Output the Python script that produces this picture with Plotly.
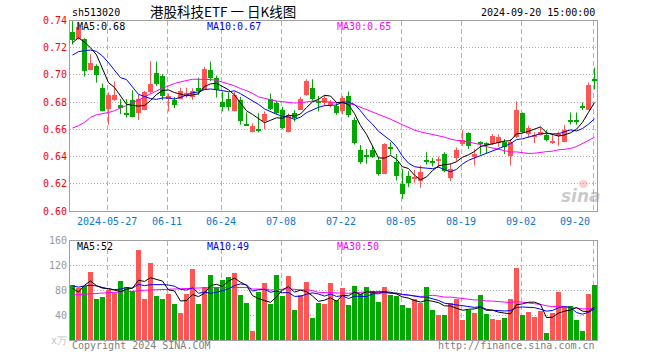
import plotly.graph_objects as go
import pandas as pd

# ---------------- data ----------------
holidays = ["2024-06-10", "2024-09-16", "2024-09-17"]
dates = [d.strftime("%Y-%m-%d") for d in pd.bdate_range("2024-05-17", "2024-09-20")
         if d.strftime("%Y-%m-%d") not in holidays]

opens = [0.7317, 0.7268, 0.7268, 0.7041, 0.7066, 0.6907, 0.6756, 0.6822, 0.6780, 0.6717,
         0.6822, 0.6724, 0.6749, 0.6878, 0.7017, 0.6993, 0.6827, 0.6822, 0.6829, 0.6846,
         0.6839, 0.6907, 0.6895, 0.7041, 0.6980, 0.6805, 0.6827, 0.6737, 0.6822, 0.6634,
         0.6585, 0.6607, 0.6668, 0.6827, 0.6798, 0.6749, 0.6585, 0.6724, 0.6749, 0.6854,
         0.6907, 0.6805, 0.6798, 0.6780, 0.6773, 0.6741, 0.6846, 0.6676, 0.6451, 0.6407,
         0.6451, 0.6376, 0.6278, 0.6473, 0.6366, 0.6205, 0.6261, 0.6237, 0.6224, 0.6371,
         0.6366, 0.6371, 0.6419, 0.6244, 0.6390, 0.6493, 0.6578, 0.6400, 0.6502, 0.6500,
         0.6498, 0.6505, 0.6512, 0.6407, 0.6546, 0.6724, 0.6566, 0.6546, 0.6561, 0.6561,
         0.6507, 0.6561, 0.6512, 0.6668, 0.6668, 0.6773, 0.6749, 0.6968]
highs = [0.7395, 0.7370, 0.7270, 0.7151, 0.7078, 0.6937, 0.6871, 0.6951, 0.6822, 0.6822,
         0.6888, 0.6854, 0.6883, 0.7102, 0.7098, 0.7005, 0.6863, 0.6839, 0.6907, 0.6907,
         0.6902, 0.6980, 0.7059, 0.7098, 0.6995, 0.6878, 0.6871, 0.6878, 0.6839, 0.6724,
         0.6644, 0.6720, 0.6732, 0.6863, 0.6810, 0.6766, 0.6717, 0.6741, 0.6839, 0.6968,
         0.6968, 0.6846, 0.6854, 0.6815, 0.6798, 0.6846, 0.6878, 0.6688, 0.6485, 0.6456,
         0.6480, 0.6395, 0.6498, 0.6505, 0.6419, 0.6310, 0.6293, 0.6302, 0.6334, 0.6432,
         0.6390, 0.6400, 0.6432, 0.6351, 0.6468, 0.6595, 0.6578, 0.6456, 0.6512, 0.6505,
         0.6566, 0.6563, 0.6529, 0.6529, 0.6805, 0.6724, 0.6627, 0.6578, 0.6615, 0.6595,
         0.6561, 0.6585, 0.6634, 0.6724, 0.6724, 0.6798, 0.6944, 0.7054]
lows = [0.7224, 0.7260, 0.6988, 0.7034, 0.6944, 0.6732, 0.6634, 0.6810, 0.6712, 0.6688,
        0.6688, 0.6668, 0.6741, 0.6863, 0.6920, 0.6815, 0.6732, 0.6756, 0.6822, 0.6834,
        0.6815, 0.6854, 0.6888, 0.6956, 0.6834, 0.6732, 0.6737, 0.6732, 0.6634, 0.6627,
        0.6578, 0.6578, 0.6602, 0.6741, 0.6712, 0.6602, 0.6578, 0.6659, 0.6741, 0.6846,
        0.6810, 0.6732, 0.6773, 0.6761, 0.6707, 0.6712, 0.6688, 0.6488, 0.6346, 0.6346,
        0.6390, 0.6261, 0.6273, 0.6415, 0.6224, 0.6090, 0.6176, 0.6205, 0.6171, 0.6341,
        0.6327, 0.6322, 0.6285, 0.6220, 0.6366, 0.6480, 0.6456, 0.6334, 0.6415, 0.6424,
        0.6485, 0.6473, 0.6419, 0.6334, 0.6537, 0.6571, 0.6541, 0.6498, 0.6554, 0.6512,
        0.6493, 0.6480, 0.6505, 0.6634, 0.6634, 0.6741, 0.6741, 0.6895]
closes = [0.7261, 0.7359, 0.7029, 0.7090, 0.7000, 0.6741, 0.6854, 0.6854, 0.6761, 0.6712,
          0.6698, 0.6829, 0.6878, 0.6937, 0.6937, 0.6846, 0.6851, 0.6780, 0.6883, 0.6871,
          0.6883, 0.6888, 0.7049, 0.6980, 0.6895, 0.6766, 0.6766, 0.6854, 0.6668, 0.6629,
          0.6632, 0.6598, 0.6717, 0.6756, 0.6724, 0.6615, 0.6707, 0.6688, 0.6829, 0.6961,
          0.6827, 0.6798, 0.6834, 0.6805, 0.6724, 0.6834, 0.6712, 0.6505, 0.6366, 0.6402,
          0.6400, 0.6278, 0.6498, 0.6463, 0.6261, 0.6127, 0.6212, 0.6254, 0.6293, 0.6366,
          0.6359, 0.6388, 0.6298, 0.6315, 0.6451, 0.6522, 0.6480, 0.6419, 0.6497, 0.6495,
          0.6554, 0.6551, 0.6473, 0.6512, 0.6744, 0.6585, 0.6615, 0.6561, 0.6585, 0.6529,
          0.6512, 0.6566, 0.6602, 0.6663, 0.6663, 0.6766, 0.6932, 0.6963]
volumes = [89.1, 84.3, 87.0, 109.5, 66.6, 69.3, 81.6, 76.3, 95.0, 85.4,
           78.9, 145.0, 66.6, 124.6, 70.9, 66.6, 74.1, 58.0, 44.0, 74.6,
           114.4, 58.0, 85.4, 104.7, 85.4, 97.2, 101.5, 108.5, 72.5, 60.1,
           14.5, 77.9, 91.8, 58.5, 104.7, 70.9, 103.1, 48.3, 73.0, 94.0,
           35.4, 60.1, 58.0, 91.8, 65.5, 83.8, 56.4, 87.0, 75.2, 85.4,
           79.5, 61.2, 85.4, 72.5, 70.9, 56.4, 51.6, 66.1, 60.1, 85.4,
           48.3, 40.3, 40.3, 59.6, 66.6, 32.2, 48.3, 43.5, 72.5, 41.9,
           33.8, 32.2, 36.0, 66.1, 116.0, 40.3, 45.1, 37.1, 46.7, 11.3,
           43.5, 77.3, 53.2, 54.8, 32.2, 14.5, 74.1, 88.6]

# moving-average values before enough history exists
ma5_head = [0.7237, 0.7273, 0.7240, 0.7200]
ma10_head = [0.7146, 0.7171, 0.7178, 0.7183, 0.7173, 0.7139, 0.7090, 0.7037, 0.6980]
ma30_head = [0.6610, 0.6627, 0.6651, 0.6688, 0.6707, 0.6715, 0.6724, 0.6737, 0.6756, 0.6773,
             0.6790, 0.6815, 0.6839, 0.6863, 0.6883, 0.6902, 0.6920, 0.6937, 0.6949, 0.6961,
             0.6968, 0.6968, 0.6968, 0.6966, 0.6961, 0.6949, 0.6937, 0.6920, 0.6900]
vma5_head = [83, 77, 88, 95]
vma10_head = [87, 85, 87, 88, 87, 84, 82, 81, 82]
vma30_head = [72.5, 73, 73.5, 74, 74.5, 75, 75.5, 76, 77, 77.5, 78, 79, 80, 80.5, 81, 81.5,
              82, 82.5, 83, 83, 83.5, 83.5, 84, 84, 84, 84, 84.5, 84.5, 84.5]

tick_dates = ["2024-05-27", "2024-06-11", "2024-06-24", "2024-07-08", "2024-07-22",
              "2024-08-05", "2024-08-19", "2024-09-02", "2024-09-20"]
tick_labels = ["2024-05-27", "06-11", "06-24", "07-08", "07-22", "08-05", "08-19", "09-02", "09-20"]
price_ticks = [0.60, 0.62, 0.64, 0.66, 0.68, 0.70, 0.72, 0.74]
vol_ticks = [0, 40, 80, 120, 160]
vol_tick_text = ['<span style="color:#c4c4c4">x万</span>', "40", "80", "120", "160"]

title_text = "港股科技ETF 一 日K线图"
code_text = "sh513020"
time_text = "2024-09-20 15:00:00"
ma_price_labels = ["MA5:0.68", "MA10:0.67", "MA30:0.65"]
ma_vol_labels = ["MA5:52", "MA10:49", "MA30:50"]

# ---------------- helpers ----------------
def moving_avg(series, n, head):
    out = list(head)
    for i in range(n - 1, len(series)):
        out.append(sum(series[i - n + 1:i + 1]) / n)
    return out

W, H = 660, 360
RED = "#ff5555"
GREEN = "#00a800"
MONO = "DejaVu Sans Mono"

idx = list(range(len(dates)))
up = [c >= o for o, c in zip(opens, closes)]
colors = [RED if u else GREEN for u in up]

fig = go.Figure()

# wicks
for want, col in ((True, RED), (False, GREEN)):
    xs, ys = [], []
    for i in idx:
        if up[i] == want:
            xs += [i, i, None]
            ys += [lows[i], highs[i], None]
    fig.add_trace(go.Scatter(x=xs, y=ys, mode="lines", line=dict(color=col, width=1),
                             hoverinfo="skip", showlegend=False, xaxis="x", yaxis="y"))

# bodies
bases = [min(o, c) for o, c in zip(opens, closes)]
heights = [max(abs(c - o), 0.0008) for o, c in zip(opens, closes)]
fig.add_trace(go.Bar(x=idx, y=heights, base=bases, width=0.8, marker=dict(color=colors, line=dict(width=0)),
                     showlegend=False, xaxis="x", yaxis="y"))

ma_cols = ["#000000", "#0000ff", "#ff00ff"]
for n, head, col in ((30, ma30_head, ma_cols[2]), (10, ma10_head, ma_cols[1]), (5, ma5_head, ma_cols[0])):
    fig.add_trace(go.Scatter(x=idx, y=moving_avg(closes, n, head), mode="lines",
                             line=dict(color=col, width=1), showlegend=False, xaxis="x", yaxis="y"))

# volume
fig.add_trace(go.Bar(x=idx, y=volumes, width=0.8, marker=dict(color=colors, line=dict(width=0)),
                     showlegend=False, xaxis="x2", yaxis="y2"))
for n, head, col in ((30, vma30_head, ma_cols[2]), (10, vma10_head, ma_cols[1]), (5, vma5_head, ma_cols[0])):
    fig.add_trace(go.Scatter(x=idx, y=moving_avg(volumes, n, head), mode="lines",
                             line=dict(color=col, width=1), showlegend=False, xaxis="x2", yaxis="y2"))

# geometry (pixels)
left_px, right_px = 70, 597
step = 6.0
x0 = -(72.5 - left_px) / step
x1 = x0 + (right_px - left_px) / step
tick_pos = [dates.index(d) - 0.25 for d in tick_dates]

def py(y):
    return 1 - y / H

def px(x):
    return x / W

axis_common = dict(showline=True, linecolor="#a0a0a0", linewidth=1, mirror=True, zeroline=False,
                   automargin=False)
xgrid = dict(tickvals=tick_pos, showgrid=True, gridcolor="#b4b4b4", griddash="5px,3px",
             showticklabels=False, ticks="", range=[x0, x1], fixedrange=True)

fig.update_layout(
    template="none",
    width=W, height=H, margin=dict(l=0, r=0, t=0, b=0, pad=0, autoexpand=False),
    paper_bgcolor="white", plot_bgcolor="white",
    barmode="overlay", bargap=0,
    xaxis=dict(domain=[px(left_px), px(right_px)], anchor="y", **xgrid, **axis_common),
    xaxis2=dict(domain=[px(left_px), px(right_px)], anchor="y2", matches="x", **xgrid, **axis_common),
    yaxis=dict(domain=[py(211), py(20.5)], anchor="x", range=[0.60, 0.74], fixedrange=True,
               tickvals=price_ticks, ticktext=[f"{v:.2f}" for v in price_ticks],
               tickfont=dict(family=MONO, size=10, color="#ff0000"),
               showgrid=True, gridcolor="#b4b4b4", griddash="1px,2px", ticks="", **axis_common),
    yaxis2=dict(domain=[py(340), py(240.5)], anchor="x2", range=[0, 160], fixedrange=True,
                tickvals=vol_ticks, ticktext=vol_tick_text,
                tickfont=dict(family=MONO, size=10, color="#999999"),
                showgrid=True, gridcolor="#b4b4b4", griddash="1px,2px", ticks="", **axis_common),
    showlegend=False,
)

ann = []
def text(x, y, s, color="#000000", size=10, family=MONO, xanchor="left", **kw):
    ann.append(dict(x=px(x), y=py(y), xref="paper", yref="paper", text=s, showarrow=False,
                    xanchor=xanchor, yanchor="middle", font=dict(family=family, size=size, color=color), **kw))

text(70, 13, code_text, size=10)
text(223, 11, title_text, size=13.5, family="Noto Sans CJK SC", xanchor="center")
text(597, 13, time_text, size=10, xanchor="right")
for s, col, xx in zip(ma_price_labels, ma_cols, (75, 205, 335)):
    text(xx, 26.5, s, color=col)
for s, col, xx in zip(ma_vol_labels, ma_cols, (75, 205, 335)):
    text(xx, 246.5, s, color=col)
for k, (pos, lab) in enumerate(zip(tick_pos, tick_labels)):
    last = k == len(tick_labels) - 1
    ann.append(dict(x=pos, y=py(221.5), xref="x", yref="paper", text=lab, showarrow=False,
                    xanchor="right" if last else "center", yanchor="middle",
                    xshift=-1 if last else 0,
                    font=dict(family=MONO, size=10, color="#0a78d2")))
text(70, 345.5, "Copyright 2024 SINA.COM", color="#808080")
text(597, 345.5, "http://finance.sina.com.cn", color="#808080", xanchor="right")
# watermark
text(581, 196, "sina", color="rgba(150,150,150,0.5)", size=17, family="DejaVu Sans",
     xanchor="center")
ann[-1]["font"]["style"] = "italic"
ann[-1]["font"]["weight"] = "bold"

fig.update_layout(
    annotations=ann,
    shapes=[dict(type="circle", xref="paper", yref="paper", x0=px(579), x1=px(588),
                 y0=py(188), y1=py(180), fillcolor="rgba(255,110,110,0.35)", line=dict(width=0))],
)
fig.write_html("out.html", config={"displayModeBar": False},
               post_script="document.body.style.margin='0';document.body.style.overflow='hidden';")
